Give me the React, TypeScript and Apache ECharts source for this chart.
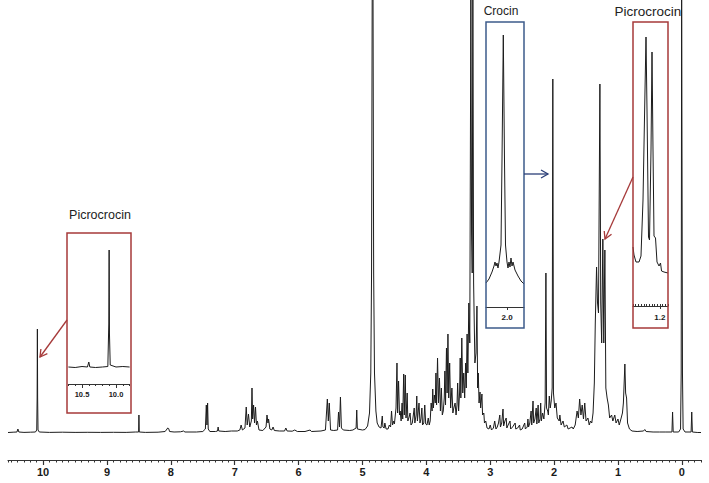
import React, { useEffect, useRef } from "react";
import * as echarts from "echarts";

// Main 1H NMR spectrum: [ppm, intensity]
const mainSpectrum: [number, number][] = [
  [10.55, 0.5], [10.47, 0.8], [10.41, 1], [10.395, 4], [10.38, 1], [10.3, 0.6], [10.2, 0.8], [10.12, 1], [10.1, 3],
  [10.094, 35], [10.09, 104], [10.086, 35], [10.08, 3], [10.06, 1], [9.9, 0.6], [9.7, 0.8], [9.5, 0.6], [9.3, 0.7],
  [9.1, 0.6], [8.9, 0.7], [8.7, 0.6], [8.55, 1], [8.505, 1], [8.5, 18], [8.495, 1], [8.4, 0.6], [8.2, 0.8], [8.09, 1.5],
  [8.06, 4], [8.05, 5], [8.035, 4.5], [8.02, 1.5], [7.95, 1], [7.85, 1.2], [7.8, 2], [7.78, 1], [7.6, 1], [7.5, 1.5],
  [7.46, 4], [7.445, 28], [7.435, 8], [7.425, 30], [7.415, 4], [7.39, 1.5], [7.3, 1.5], [7.27, 2], [7.26, 6], [7.25, 2],
  [7.15, 1.5], [7.05, 2], [6.96, 2], [6.92, 3], [6.9, 8], [6.88, 3], [6.84, 5], [6.82, 26], [6.805, 8], [6.785, 19],
  [6.765, 6], [6.74, 12], [6.73, 45], [6.72, 14], [6.705, 28], [6.69, 10], [6.675, 26], [6.66, 8], [6.645, 12],
  [6.62, 3], [6.56, 2.5], [6.51, 6], [6.495, 18], [6.48, 10], [6.47, 14], [6.45, 4], [6.42, 3], [6.4, 6], [6.38, 2.5],
  [6.3, 2], [6.22, 2], [6.2, 5], [6.18, 2], [6.1, 1.8], [6.06, 3], [6.02, 1.5], [5.9, 1.5], [5.82, 3], [5.8, 1.5],
  [5.65, 2], [5.58, 3], [5.55, 34], [5.535, 12], [5.52, 30], [5.5, 3], [5.45, 2.5], [5.39, 3], [5.375, 21], [5.36, 6],
  [5.345, 36], [5.33, 5], [5.3, 3], [5.2, 2.5], [5.15, 3], [5.1, 5], [5.09, 23], [5.08, 4], [5.0, 3], [4.96, 3.5],
  [4.92, 7], [4.89, 20], [4.87, 60], [4.858, 160], [4.848, 440], [4.835, 440], [4.825, 160], [4.812, 60], [4.79, 22],
  [4.77, 10], [4.74, 6], [4.71, 5], [4.69, 17], [4.68, 6], [4.66, 5], [4.65, 10], [4.63, 4], [4.6, 4], [4.58, 8],
  [4.56, 6], [4.545, 22], [4.53, 8], [4.51, 12], [4.5, 9], [4.475, 25], [4.46, 70], [4.45, 20], [4.435, 52], [4.42, 18],
  [4.41, 22], [4.395, 12], [4.38, 30], [4.37, 14], [4.355, 59], [4.345, 18], [4.33, 58], [4.318, 15], [4.3, 40],
  [4.29, 12], [4.27, 16], [4.255, 20], [4.24, 8], [4.22, 10], [4.19, 25], [4.18, 10], [4.16, 18], [4.15, 37],
  [4.14, 12], [4.115, 30], [4.1, 10], [4.085, 14], [4.07, 25], [4.06, 8], [4.04, 10], [4.025, 28], [4.01, 9],
  [3.99, 8], [3.97, 15], [3.955, 8], [3.94, 12], [3.925, 30], [3.91, 22], [3.9, 44], [3.89, 25], [3.875, 38],
  [3.86, 30], [3.85, 60], [3.84, 28], [3.825, 75], [3.81, 30], [3.795, 55], [3.78, 22], [3.765, 45], [3.75, 18],
  [3.735, 22], [3.72, 35], [3.71, 62], [3.7, 28], [3.685, 85], [3.675, 40], [3.662, 99], [3.65, 35], [3.635, 70],
  [3.62, 25], [3.6, 45], [3.585, 20], [3.57, 25], [3.55, 30], [3.535, 18], [3.52, 28], [3.51, 50], [3.495, 22],
  [3.48, 40], [3.47, 75], [3.46, 35], [3.445, 95], [3.43, 40], [3.415, 60], [3.4, 35], [3.385, 70], [3.375, 45],
  [3.362, 99], [3.35, 60], [3.335, 130], [3.32, 90], [3.303, 440], [3.292, 200], [3.282, 160], [3.272, 440],
  [3.26, 150], [3.24, 70], [3.222, 80], [3.208, 127], [3.197, 45], [3.187, 60], [3.175, 30], [3.16, 41], [3.15, 25],
  [3.13, 39], [3.12, 18], [3.1, 20], [3.09, 10], [3.07, 12], [3.05, 5], [3.02, 4], [3.0, 8], [2.98, 3], [2.95, 5],
  [2.93, 12], [2.91, 4], [2.89, 6], [2.87, 10], [2.85, 18], [2.84, 6], [2.82, 10], [2.8, 24], [2.79, 7], [2.77, 12],
  [2.75, 15], [2.74, 5], [2.72, 8], [2.69, 12], [2.68, 4], [2.65, 6], [2.61, 10], [2.6, 4], [2.57, 5], [2.54, 8],
  [2.53, 3], [2.5, 4], [2.46, 10], [2.45, 4], [2.42, 6], [2.41, 14], [2.4, 6], [2.38, 10], [2.36, 22], [2.35, 8],
  [2.33, 32], [2.32, 10], [2.3, 14], [2.28, 25], [2.27, 9], [2.25, 28], [2.24, 10], [2.22, 14], [2.21, 30], [2.2, 12],
  [2.18, 20], [2.16, 14], [2.14, 30], [2.128, 160], [2.118, 25], [2.1, 22], [2.09, 18], [2.075, 37], [2.06, 25],
  [2.045, 32], [2.03, 45], [2.02, 354], [2.01, 40], [1.99, 25], [1.97, 30], [1.95, 15], [1.92, 12], [1.91, 18],
  [1.89, 8], [1.86, 12], [1.84, 6], [1.8, 8], [1.78, 4], [1.75, 5], [1.72, 6], [1.7, 4], [1.67, 8], [1.64, 22],
  [1.62, 15], [1.6, 34], [1.58, 18], [1.56, 28], [1.54, 14], [1.52, 30], [1.5, 12], [1.47, 15], [1.45, 8], [1.43, 12],
  [1.41, 10], [1.39, 20], [1.37, 50], [1.355, 110], [1.335, 166], [1.32, 130], [1.305, 120], [1.283, 349],
  [1.27, 130], [1.255, 90], [1.237, 194], [1.222, 90], [1.205, 183], [1.19, 45], [1.17, 35], [1.15, 28], [1.13, 15],
  [1.1, 18], [1.08, 12], [1.05, 18], [1.03, 10], [1.0, 14], [0.98, 8], [0.95, 15], [0.93, 20], [0.915, 30],
  [0.892, 69], [0.88, 40], [0.865, 35], [0.85, 10], [0.82, 4], [0.78, 2], [0.7, 1.5], [0.6, 2], [0.58, 3.5],
  [0.56, 1.5], [0.45, 1], [0.35, 1], [0.25, 1], [0.155, 1], [0.145, 21], [0.135, 1], [0.05, 1], [0.02, 4],
  [0.01, 60], [0.003, 440], [-0.003, 440], [-0.01, 60], [-0.02, 4], [-0.05, 1], [-0.145, 1], [-0.155, 21],
  [-0.165, 1], [-0.25, 0.5], [-0.3, 0.5],
];

// Inset: picrocrocin aldehyde region (10.7 - 9.8 ppm)
const insetAldehyde: [number, number][] = [
  [10.7, 17], [10.6, 16.5], [10.5, 17.5], [10.42, 17], [10.4, 22], [10.385, 17], [10.3, 16.5], [10.2, 17],
  [10.12, 17.5], [10.106, 60], [10.101, 134], [10.096, 50], [10.085, 19], [10.0, 17], [9.9, 17.5], [9.8, 17],
];

// Inset: crocin region (2.1 - 1.92 ppm)
const insetCrocin: [number, number][] = [
  [2.1, 24], [2.0858, 28], [2.0716, 35], [2.0621, 41], [2.0574, 45], [2.0526, 41], [2.0479, 44], [2.0432, 39],
  [2.0384, 45], [2.0289, 62], [2.0242, 147], [2.018, 272], [2.0124, 147], [2.0076, 62], [2.0005, 45], [1.9958, 39],
  [1.9911, 45], [1.9863, 40], [1.9816, 49], [1.9768, 41], [1.9721, 45], [1.9626, 37], [1.9484, 31], [1.9342, 26],
  [1.92, 23],
];

// Inset: picrocrocin methyl region (1.3 - 1.17 ppm)
const insetMethyl: [number, number][] = [
  [1.3, 59], [1.2963, 51], [1.2888, 44], [1.2777, 44], [1.2703, 50], [1.2628, 106], [1.2554, 216], [1.2517, 269],
  [1.248, 196], [1.2424, 69], [1.2387, 66], [1.2331, 156], [1.2294, 254], [1.2257, 156], [1.222, 70], [1.2164, 68],
  [1.2108, 44], [1.2033, 40], [1.1978, 43], [1.194, 35], [1.1848, 34], [1.17, 33],
];

const mainTickValues = [0, 1, 2, 3, 4, 5, 6, 7, 8, 9, 10];
const aldehydeLabels = [10.5, 10.0];
const crocinLabels = [2.0];
const methylLabels = [1.2];

const RED = "#a63a3a";
const BLUE = "#3d5b8a";
const BLUE_ARROW = "#2b3f78";
const AXIS = "#333";
const FONT = "'Liberation Sans', Arial, sans-serif";

function arrow(x1: number, y1: number, x2: number, y2: number, color: string) {
  const dx = x2 - x1;
  const dy = y2 - y1;
  const len = Math.sqrt(dx * dx + dy * dy);
  const ux = dx / len;
  const uy = dy / len;
  const px = -uy;
  const py = ux;
  const back = 7;
  const half = 4;
  const bx = x2 - ux * back;
  const by = y2 - uy * back;
  return [
    { type: "line", z: 100, shape: { x1, y1, x2, y2 }, style: { stroke: color, lineWidth: 1.3 } },
    {
      type: "polyline",
      z: 100,
      shape: { points: [[bx + px * half, by + py * half], [x2, y2], [bx - px * half, by - py * half]] },
      style: { stroke: color, fill: "none", lineWidth: 1.3 },
    },
  ];
}

const baseX = (gridIndex: number, min: number, max: number) => ({
  type: "value",
  gridIndex,
  min,
  max,
  inverse: true,
  position: "bottom",
  splitLine: { show: false },
});

export default function App() {
  const ref = useRef<HTMLDivElement>(null);

  useEffect(() => {
    const chart = echarts.init(ref.current!, null, { renderer: "svg" });
    const lineSeries = (data: [number, number][], xi: number, yi: number) => ({
      type: "line",
      xAxisIndex: xi,
      yAxisIndex: yi,
      data,
      symbol: "none",
      showSymbol: false,
      silent: true,
      clip: true,
      lineStyle: { color: "#1c1c1c", width: 1 },
    });
    const option: any = {
      animation: false,
      backgroundColor: "#ffffff",
      grid: [
        { left: 8, right: 8, top: 0, bottom: 23 },
        { left: 68.4, right: 579.4, top: 233, bottom: 99 },
        { left: 633, right: 41, top: 22, bottom: 177 },
        { left: 486, right: 185, top: 22, bottom: 176 },
      ],
      xAxis: [
        {
          ...baseX(0, -0.3, 10.55),
          axisLine: { onZero: false, lineStyle: { color: AXIS, width: 1.2 } },
          axisTick: { customValues: mainTickValues, length: 5, lineStyle: { color: AXIS, width: 1.2 } },
          axisLabel: {
            customValues: mainTickValues,
            margin: 6,
            fontSize: 11,
            fontWeight: "bold",
            fontFamily: FONT,
            color: "#1a1a1a",
          },
        },
        {
          ...baseX(0, -0.3, 10.55),
          interval: 0.1,
          axisLine: { show: false, onZero: false },
          axisTick: { length: 2.5, lineStyle: { color: AXIS, width: 1 } },
          axisLabel: { show: false },
        },
        {
          ...baseX(1, 9.8, 10.7),
          interval: 0.1,
          axisLine: { onZero: false, lineStyle: { color: AXIS, width: 1 } },
          axisTick: { length: 2, lineStyle: { color: AXIS } },
          axisLabel: {
            customValues: aldehydeLabels,
            formatter: (v: number) => v.toFixed(1),
            margin: 6,
            fontSize: 7.5,
            fontWeight: "bold",
            fontFamily: FONT,
            color: "#1a1a1a",
          },
        },
        {
          ...baseX(1, 9.8, 10.7),
          axisLine: { show: false, onZero: false },
          axisTick: { customValues: aldehydeLabels, length: 4, lineStyle: { color: AXIS } },
          axisLabel: { show: false },
        },
        {
          ...baseX(2, 1.17, 1.3),
          interval: 0.01,
          axisLine: { onZero: false, lineStyle: { color: AXIS, width: 1 } },
          axisTick: { inside: true, length: 2, lineStyle: { color: AXIS } },
          axisLabel: {
            customValues: methylLabels,
            formatter: (v: number) => v.toFixed(1),
            margin: 7,
            fontSize: 8,
            fontWeight: "bold",
            fontFamily: FONT,
            color: "#1a1a1a",
          },
        },
        {
          ...baseX(2, 1.17, 1.3),
          axisLine: { show: false, onZero: false },
          axisTick: { customValues: methylLabels, length: 3, lineStyle: { color: AXIS } },
          axisLabel: { show: false },
        },
        {
          ...baseX(3, 1.92, 2.1),
          axisLine: { onZero: false, lineStyle: { color: AXIS, width: 1 } },
          axisTick: { customValues: crocinLabels, length: 3, lineStyle: { color: AXIS } },
          axisLabel: {
            customValues: crocinLabels,
            formatter: (v: number) => v.toFixed(1),
            margin: 6,
            fontSize: 8,
            fontWeight: "bold",
            fontFamily: FONT,
            color: "#1a1a1a",
          },
        },
      ],
      yAxis: [
        { type: "value", gridIndex: 0, min: -27, max: 433, show: false },
        { type: "value", gridIndex: 1, min: 0, max: 151, show: false },
        { type: "value", gridIndex: 2, min: 0, max: 284, show: false },
        { type: "value", gridIndex: 3, min: 0, max: 285, show: false },
      ],
      series: [
        lineSeries(mainSpectrum, 0, 0),
        lineSeries(insetAldehyde, 2, 1),
        lineSeries(insetMethyl, 4, 2),
        lineSeries(insetCrocin, 6, 3),
      ],
      graphic: [
        { type: "rect", z: 100, shape: { x: 67, y: 233, width: 64, height: 180 }, style: { stroke: RED, fill: "none", lineWidth: 1.5 } },
        { type: "rect", z: 100, shape: { x: 486, y: 22, width: 38, height: 306 }, style: { stroke: BLUE, fill: "none", lineWidth: 1.5 } },
        { type: "rect", z: 100, shape: { x: 633, y: 22, width: 35, height: 306 }, style: { stroke: RED, fill: "none", lineWidth: 1.5 } },
        ...arrow(67, 320, 40, 357, RED),
        ...arrow(633, 177, 605, 239, RED),
        ...arrow(524, 174, 548, 174, BLUE_ARROW),
        {
          type: "text", z: 100,
          style: { text: "Picrocrocin", x: 100, y: 215, font: `12.5px ${FONT}`, fill: "#222", textAlign: "center", textVerticalAlign: "middle" },
        },
        {
          type: "text", z: 100,
          style: { text: "Crocin", x: 501, y: 11, font: `12px ${FONT}`, fill: "#222", textAlign: "center", textVerticalAlign: "middle" },
        },
        {
          type: "text", z: 100,
          style: { text: "Picrocrocin", x: 648, y: 11, font: `13.5px ${FONT}`, fill: "#222", textAlign: "center", textVerticalAlign: "middle" },
        },
      ],
    };
    chart.setOption(option);
    return () => chart.dispose();
  }, []);

  return <div ref={ref} style={{ position: "absolute", left: 0, top: 0, width: 709, height: 483 }} />;
}
